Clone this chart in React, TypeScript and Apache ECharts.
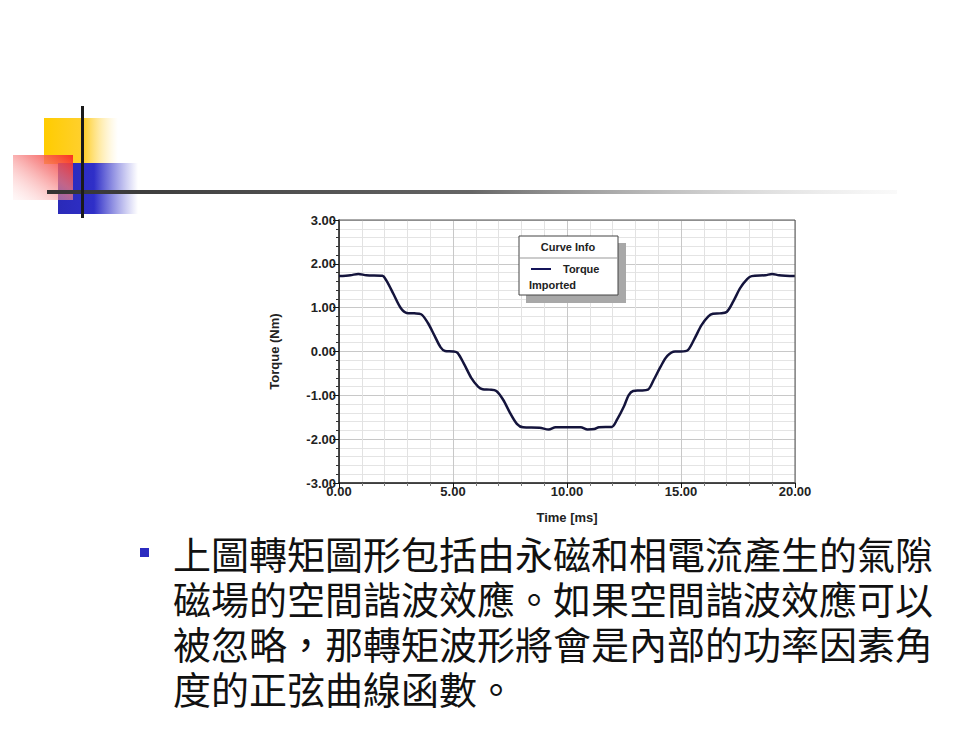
import React, { useEffect, useRef } from "react";
import * as echarts from "echarts";

const timeMs: number[] = [
  0, 0.5, 0.85, 1.2, 1.9, 2.1, 2.4, 2.7, 2.97, 3.3, 3.6, 3.9, 4.2, 4.45, 4.65, 5.0, 5.2, 5.5, 5.8, 6.1, 6.3,
  6.6, 6.9, 7.2, 7.5, 7.8, 8.07, 8.8, 9.2, 9.5, 10.6, 10.9, 11.2, 11.4, 11.96, 12.2, 12.5, 12.7, 12.9, 13.2,
  13.55, 13.8, 14.1, 14.4, 14.74, 15.0, 15.3, 15.6, 15.9, 16.2, 16.4, 16.7, 17.0, 17.3, 17.6, 17.9, 18.1,
  18.7, 19.0, 19.3, 20,
];
const torqueNm: number[] = [
  1.72, 1.74, 1.77, 1.74, 1.73, 1.6, 1.3, 1.0, 0.88, 0.87, 0.85, 0.65, 0.35, 0.1, 0.01, 0.0, -0.03, -0.3, -0.6,
  -0.8, -0.86, -0.87, -0.9, -1.1, -1.4, -1.65, -1.73, -1.74, -1.78, -1.73, -1.73, -1.78, -1.77, -1.73, -1.72,
  -1.55, -1.25, -1.0, -0.9, -0.89, -0.87, -0.65, -0.35, -0.1, 0.0, 0.0, 0.03, 0.3, 0.6, 0.8, 0.86, 0.87, 0.9,
  1.15, 1.45, 1.65, 1.72, 1.74, 1.77, 1.74, 1.72,
];
const seriesName = "Torque";
const legendTitle = "Curve Info";
const legendSub = "Imported";
const xAxisTitle = "Time [ms]";
const yAxisTitle = "Torque (Nm)";
const bodyLines: string[] = [
  "上圖轉矩圖形包括由永磁和相電流產生的氣隙",
  "磁場的空間諧波效應。如果空間諧波效應可以",
  "被忽略，那轉矩波形將會是內部的功率因素角",
  "度的正弦曲線函數。",
];

export default function App() {
  const ref = useRef<HTMLDivElement>(null);
  useEffect(() => {
    document.body.style.margin = "0";
    const chart = echarts.init(ref.current!, null, { renderer: "svg" });
    const labelFont = { fontFamily: "Liberation Sans, Arial", fontWeight: "bold" as const, fontSize: 13, color: "#222" };
    const cjk = "'Noto Sans CJK TC', 'Noto Sans CJK SC', sans-serif";
    const legendFont = "bold 11px 'Liberation Sans', Arial";
    chart.setOption({
      animation: false,
      backgroundColor: "#ffffff",
      grid: { left: 339, right: 184, top: 220, bottom: 251, show: false },
      xAxis: {
        type: "value",
        min: 0,
        max: 20,
        interval: 5,
        name: xAxisTitle,
        nameLocation: "middle",
        nameGap: 28,
        nameTextStyle: { ...labelFont },
        axisLine: { show: true, onZero: false, lineStyle: { color: "#111", width: 1.5 } },
        axisTick: { show: true, length: 5, lineStyle: { color: "#111" } },
        minorTick: { show: true, splitNumber: 5, length: 3, lineStyle: { color: "#777" } },
        axisLabel: { ...labelFont, formatter: (v: number) => v.toFixed(2), margin: 2 },
        splitLine: { show: true, lineStyle: { color: "#c8c8c8", width: 1 } },
        minorSplitLine: { show: true, lineStyle: { color: "#e2e2e2", width: 1 } },
      },
      yAxis: {
        type: "value",
        min: -3,
        max: 3,
        interval: 1,
        name: yAxisTitle,
        nameLocation: "middle",
        nameGap: 58,
        nameRotate: 90,
        nameTextStyle: { ...labelFont },
        axisLine: { show: true, onZero: false, lineStyle: { color: "#111", width: 1.5 } },
        axisTick: { show: true, length: 6, lineStyle: { color: "#111" } },
        minorTick: { show: true, splitNumber: 5, length: 3, lineStyle: { color: "#333" } },
        axisLabel: { ...labelFont, formatter: (v: number) => v.toFixed(2), margin: 3 },
        splitLine: { show: true, lineStyle: { color: "#c8c8c8", width: 1 } },
        minorSplitLine: { show: true, lineStyle: { color: "#e4e4e4", width: 1 } },
      },
      series: [
        {
          name: seriesName,
          type: "line",
          data: timeMs.map((t, i) => [t, torqueNm[i]]),
          showSymbol: false,
          smooth: 0.3,
          lineStyle: { color: "#14143c", width: 2.5 },
        },
      ],
      graphic: [
        // slide decorations
        {
          type: "rect",
          z: 100,
          shape: { x: 44, y: 118, width: 74, height: 46 },
          style: {
            fill: new echarts.graphic.LinearGradient(0, 0, 1, 0, [
              { offset: 0, color: "#ffcc00" },
              { offset: 0.55, color: "#ffd030" },
              { offset: 1, color: "rgba(255,230,150,0)" },
            ]),
          },
        },
        {
          type: "rect",
          z: 101,
          shape: { x: 58, y: 163, width: 80, height: 51 },
          style: {
            fill: new echarts.graphic.LinearGradient(0, 0, 1, 0, [
              { offset: 0, color: "#2a2ab8" },
              { offset: 0.45, color: "#2f2fc8" },
              { offset: 1, color: "rgba(80,80,210,0)" },
            ]),
          },
        },
        {
          type: "rect",
          z: 102,
          shape: { x: 13, y: 155, width: 60, height: 45 },
          style: {
            fill: new echarts.graphic.LinearGradient(0, 1, 1, 0, [
              { offset: 0, color: "rgba(255,210,210,0.15)" },
              { offset: 0.6, color: "rgba(245,120,120,0.75)" },
              { offset: 1, color: "rgba(250,40,30,0.95)" },
            ]),
          },
        },
        {
          type: "rect",
          z: 103,
          shape: { x: 47, y: 190, width: 850, height: 4 },
          style: {
            fill: new echarts.graphic.LinearGradient(0, 0, 1, 0, [
              { offset: 0, color: "#333" },
              { offset: 0.5, color: "#666" },
              { offset: 1, color: "rgba(200,200,200,0.1)" },
            ]),
          },
        },
        { type: "rect", z: 104, shape: { x: 81, y: 106, width: 3, height: 112 }, style: { fill: "#1a1a1a" } },
        // plot frame top and right
        { type: "line", z: 100, shape: { x1: 339, y1: 220, x2: 795, y2: 220 }, style: { stroke: "#555", lineWidth: 1 } },
        { type: "line", z: 100, shape: { x1: 795, y1: 220, x2: 795, y2: 483 }, style: { stroke: "#555", lineWidth: 1 } },
        // legend box
        { type: "rect", z: 100, shape: { x: 526, y: 243, width: 100, height: 60 }, style: { fill: "#a8a8a8" } },
        { type: "rect", z: 101, shape: { x: 519, y: 236, width: 99, height: 59 }, style: { fill: "#ffffff", stroke: "#444", lineWidth: 1 } },
        { type: "line", z: 102, shape: { x1: 519, y1: 258, x2: 618, y2: 258 }, style: { stroke: "#999", lineWidth: 1 } },
        {
          type: "text",
          z: 102,
          x: 568,
          y: 247,
          style: { text: legendTitle, font: legendFont, fill: "#222", align: "center", verticalAlign: "middle" },
        },
        { type: "line", z: 102, shape: { x1: 531, y1: 269, x2: 551, y2: 269 }, style: { stroke: "#14145a", lineWidth: 2 } },
        {
          type: "text",
          z: 102,
          x: 563,
          y: 269,
          style: { text: seriesName, font: legendFont, fill: "#222", verticalAlign: "middle" },
        },
        {
          type: "text",
          z: 102,
          x: 529,
          y: 285,
          style: { text: legendSub, font: legendFont, fill: "#222", verticalAlign: "middle" },
        },
        // bullet
        { type: "rect", z: 100, shape: { x: 140, y: 548, width: 9, height: 9 }, style: { fill: "#2b2bc0" } },
        {
          type: "text",
          z: 100,
          left: 173,
          top: 530,
          style: { text: bodyLines.join("\n"), font: `38px ${cjk}`, lineHeight: 45, fill: "#111" },
        },
      ],
    });
    return () => chart.dispose();
  }, []);
  return <div ref={ref} style={{ width: 979, height: 734 }} />;
}
